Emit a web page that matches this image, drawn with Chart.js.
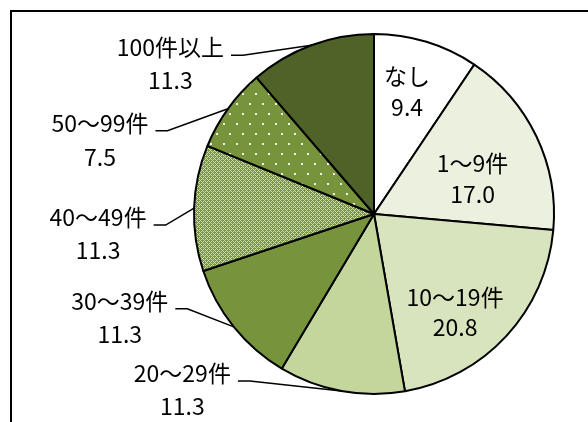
<!DOCTYPE html>
<html lang="ja">
<head>
<meta charset="utf-8">
<script src="https://cdn.jsdelivr.net/npm/chart.js@4/dist/chart.umd.min.js"></script>
<style>
  html, body { margin: 0; padding: 0; background: #fff; }
  canvas { display: block; }
</style>
</head>
<body>
<canvas id="pie" width="588" height="422"></canvas>
<script>
// 件数区分ごとの割合 (%)
const categories = ['なし', '1～9件', '10～19件', '20～29件', '30～39件', '40～49件', '50～99件', '100件以上'];
const values = [9.4, 17.0, 20.8, 11.3, 11.3, 11.3, 7.5, 11.3];

// label placement: inside labels sit at 65% radius, outside ones hang off the rim with a leader
const labelLayout = [
  { inside: true,  dx: -1,   dy: -26, gap: 31 },
  { inside: true,  dx: -7,   dy: 0,   gap: 31 },
  { inside: true,  dx: -5,   dy: 4,   gap: 30 },
  { inside: false, dx: -159, dy: -18, gap: 33 },
  { inside: false, dx: -114, dy: -26, gap: 33 },
  { inside: false, dx: -96,  dy: 9,   gap: 33 },
  { inside: false, dx: -128, dy: 14,  gap: 34 },
  { inside: false, dx: -141, dy: 2,   gap: 33 }
];

const FONT = "23px 'Noto Sans CJK JP', sans-serif";

function latticePattern(base, light) {
  const c = document.createElement('canvas');
  c.width = 4; c.height = 4;
  const g = c.getContext('2d');
  g.fillStyle = base;
  g.fillRect(0, 0, 4, 4);
  g.fillStyle = light;
  for (let y = 0; y < 4; y++) {
    for (let x = 0; x < 4; x++) {
      if ((x + y) % 4 === 0 || (x - y + 4) % 4 === 0) g.fillRect(x, y, 1, 1);
    }
  }
  return g.createPattern(c, 'repeat');
}

function dotPattern(base, dot) {
  const c = document.createElement('canvas');
  c.width = 13; c.height = 20;
  const g = c.getContext('2d');
  g.fillStyle = base;
  g.fillRect(0, 0, 13, 20);
  g.fillStyle = dot;
  g.fillRect(2, 3, 2, 2);
  g.fillRect(8, 13, 2, 2);
  return g.createPattern(c, 'repeat');
}

const colors = [
  '#ffffff',
  '#ebf1de',
  '#d7e4bd',
  '#c3d69b',
  '#77933c',
  latticePattern('#77933c', '#cfdfae'),
  dotPattern('#77933c', '#eef3e4'),
  '#4f6228'
];

const frame = {
  id: 'frame',
  beforeDraw(chart) {
    const ctx = chart.ctx;
    ctx.save();
    ctx.fillStyle = '#fff';
    ctx.fillRect(0, 0, chart.width, chart.height);
    ctx.strokeStyle = '#000';
    ctx.lineWidth = 2;
    ctx.strokeRect(11, 11, 700, 600);
    ctx.restore();
  }
};

const pieLabels = {
  id: 'pieLabels',
  afterDatasetsDraw(chart) {
    const ctx = chart.ctx;
    const arcs = chart.getDatasetMeta(0).data;
    ctx.save();
    ctx.font = FONT;
    ctx.fillStyle = '#000';
    ctx.strokeStyle = '#000';
    ctx.lineWidth = 1.5;
    ctx.textAlign = 'center';
    ctx.textBaseline = 'middle';
    arcs.forEach((arc, i) => {
      const p = arc.getProps(['x', 'y', 'startAngle', 'endAngle', 'outerRadius'], true);
      const mid = (p.startAngle + p.endAngle) / 2;
      const L = labelLayout[i];
      const r = L.inside ? p.outerRadius * 0.65 : p.outerRadius;
      const px = p.x + Math.cos(mid) * r;
      const py = p.y + Math.sin(mid) * r;
      const tx = px + L.dx;
      const ty = py + L.dy;
      ctx.fillText(categories[i], tx, ty);
      ctx.fillText(values[i].toFixed(1), tx, ty + L.gap);
      if (!L.inside) {
        const w = ctx.measureText(categories[i]).width;
        const sx = tx + w / 2 + 7;
        const sy = ty + 8;
        ctx.beginPath();
        ctx.moveTo(sx, sy);
        ctx.lineTo(sx + 12, sy);
        ctx.lineTo(px, py);
        ctx.stroke();
      }
    });
    ctx.restore();
  }
};

new Chart(document.getElementById('pie'), {
  type: 'pie',
  data: {
    labels: categories,
    datasets: [{
      data: values,
      backgroundColor: colors,
      borderColor: '#000',
      borderWidth: 2
    }]
  },
  options: {
    responsive: false,
    animation: false,
    layout: { padding: { left: 193, top: 33, right: 33, bottom: 27 } },
    plugins: {
      legend: { display: false },
      tooltip: { enabled: false }
    }
  },
  plugins: [frame, pieLabels]
});
</script>
</body>
</html>
